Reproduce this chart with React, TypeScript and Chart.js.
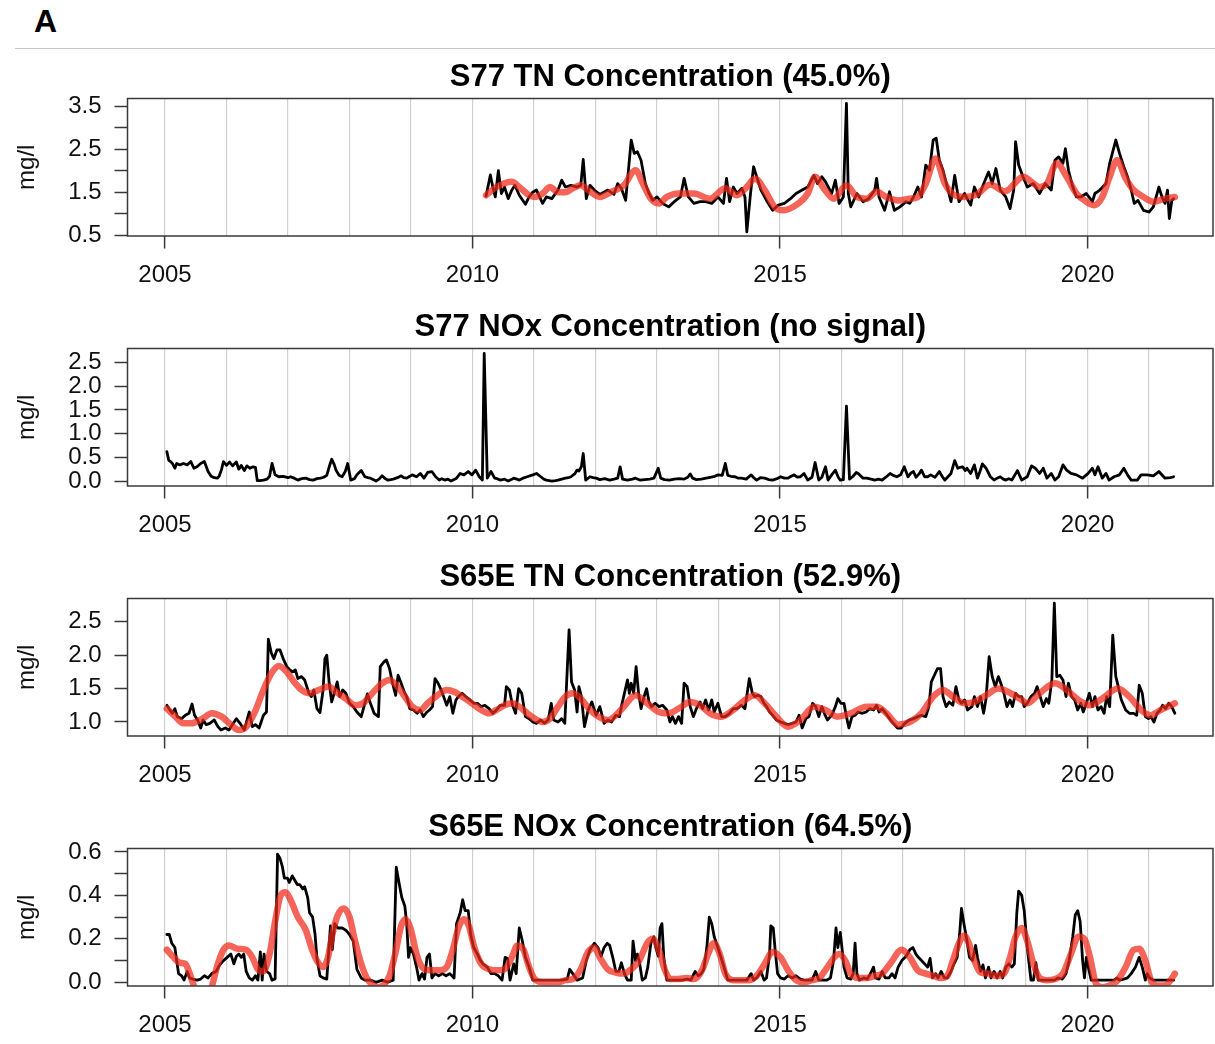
import React, { useEffect, useRef } from "react";
import { Chart, registerables } from "chart.js";

Chart.register(...registerables);

type Pt = [number, number];

// ---------- tick definitions ----------
const GRID_YEARS = [2005, 2006, 2007, 2008, 2009, 2010, 2011, 2012, 2013, 2014, 2015, 2016, 2017, 2018, 2019, 2020, 2021];
const LABEL_YEARS = [2005, 2010, 2015, 2020];

// ---------- S77 TN ----------
const S77_TN: Pt[] = [
  [2010.22,1.41],[2010.29,1.90],[2010.33,1.62],[2010.37,1.39],[2010.42,2.00],[2010.47,1.47],[2010.52,1.62],[2010.58,1.35],[2010.64,1.55],[2010.69,1.66],[2010.76,1.43],[2010.86,1.22],[2010.92,1.39],[2010.98,1.50],[2011.04,1.55],[2011.14,1.24],[2011.20,1.39],[2011.29,1.35],[2011.39,1.55],[2011.45,1.78],[2011.51,1.62],[2011.60,1.66],[2011.70,1.62],[2011.76,1.66],[2011.80,2.26],[2011.85,1.35],[2011.91,1.66],[2011.98,1.55],
  [2012.07,1.45],[2012.20,1.55],[2012.30,1.45],[2012.36,1.70],[2012.42,1.59],[2012.49,1.31],[2012.58,2.71],[2012.63,2.40],[2012.68,2.44],[2012.74,2.24],[2012.81,1.70],[2012.87,1.47],[2012.93,1.31],[2013.00,1.39],[2013.09,1.24],[2013.19,1.16],[2013.28,1.28],[2013.38,1.39],[2013.44,1.82],[2013.51,1.39],[2013.60,1.24],[2013.70,1.28],[2013.79,1.28],[2013.89,1.24],[2013.99,1.39],
  [2014.08,1.24],[2014.13,1.82],[2014.18,1.28],[2014.24,1.62],[2014.30,1.47],[2014.38,1.59],[2014.43,1.39],[2014.46,0.58],[2014.52,1.47],[2014.57,2.09],[2014.62,1.86],[2014.69,1.55],[2014.78,1.31],[2014.88,1.08],[2014.97,1.20],[2015.07,1.24],[2015.17,1.35],[2015.26,1.47],[2015.36,1.55],[2015.45,1.62],[2015.55,1.89],[2015.61,1.70],[2015.68,1.86],[2015.74,1.74],[2015.84,1.47],[2015.90,1.78],[2015.96,1.24],
  [2016.03,1.39],[2016.08,3.56],[2016.11,1.47],[2016.15,1.16],[2016.25,1.47],[2016.35,1.28],[2016.44,1.35],[2016.54,1.55],[2016.57,1.82],[2016.61,1.39],[2016.70,1.08],[2016.78,1.51],[2016.86,1.08],[2016.95,1.16],[2017.05,1.28],[2017.11,1.24],[2017.17,1.39],[2017.24,1.62],[2017.30,1.39],[2017.37,2.13],[2017.43,2.01],[2017.49,2.71],[2017.54,2.75],[2017.59,2.24],[2017.65,2.01],[2017.72,1.62],[2017.78,1.28],[2017.84,1.89],[2017.91,1.28],
  [2018.00,1.47],[2018.10,1.20],[2018.16,1.62],[2018.23,1.39],[2018.29,1.62],[2018.39,1.97],[2018.45,1.70],[2018.51,2.05],[2018.58,1.55],[2018.67,1.39],[2018.74,1.12],[2018.80,1.55],[2018.83,2.67],[2018.88,2.13],[2018.95,1.86],[2019.02,1.62],[2019.12,1.70],[2019.22,1.47],[2019.31,1.70],[2019.41,1.55],[2019.47,2.24],[2019.53,2.32],[2019.60,2.17],[2019.64,2.51],[2019.69,2.01],[2019.76,1.62],[2019.82,1.39],[2019.89,1.39],[2019.98,1.47],
  [2020.08,1.28],[2020.12,1.47],[2020.20,1.55],[2020.30,1.70],[2020.36,2.17],[2020.46,2.71],[2020.52,2.40],[2020.59,2.09],[2020.65,1.86],[2020.71,1.55],[2020.76,1.24],[2020.82,1.31],[2020.91,1.08],[2021.00,1.04],[2021.07,1.16],[2021.16,1.62],[2021.21,1.39],[2021.26,1.24],[2021.30,1.55],[2021.33,0.89],[2021.37,1.31],[2021.40,1.35],
];
const S77_TN_FIT: Pt[] = [
  [2010.22,1.43],[2010.39,1.62],[2010.64,1.74],[2010.76,1.62],[2010.92,1.43],[2011.01,1.39],[2011.14,1.47],[2011.26,1.62],[2011.39,1.50],[2011.51,1.50],[2011.63,1.59],[2011.76,1.66],[2011.88,1.55],[2012.07,1.39],[2012.26,1.51],[2012.46,1.66],[2012.65,2.01],[2012.77,1.70],[2012.90,1.35],[2013.03,1.24],[2013.16,1.39],[2013.35,1.47],[2013.60,1.47],[2013.86,1.35],[2014.11,1.59],[2014.30,1.43],[2014.46,1.62],[2014.59,1.82],[2014.75,1.55],[2014.91,1.16],[2015.04,1.08],[2015.26,1.20],[2015.45,1.47],[2015.57,1.86],[2015.71,1.59],[2015.87,1.35],[2016.08,1.66],[2016.25,1.39],[2016.41,1.35],[2016.57,1.51],[2016.73,1.39],[2016.92,1.31],[2017.11,1.35],[2017.24,1.39],[2017.37,1.70],[2017.53,2.28],[2017.68,1.70],[2017.84,1.43],[2018.00,1.39],[2018.20,1.45],[2018.42,1.68],[2018.65,1.52],[2018.96,1.86],[2019.09,1.74],[2019.22,1.62],[2019.34,1.70],[2019.50,2.17],[2019.66,1.86],[2019.82,1.47],[2019.98,1.28],[2020.11,1.20],[2020.24,1.39],[2020.36,1.86],[2020.48,2.24],[2020.62,1.82],[2020.75,1.55],[2020.91,1.39],[2021.07,1.28],[2021.26,1.35],[2021.42,1.39],
];

// ---------- S77 NOx ----------
const S77_NOX: Pt[] = [
  [2005.03,0.62],[2005.06,0.44],[2005.09,0.41],[2005.12,0.37],[2005.16,0.27],[2005.19,0.37],[2005.24,0.34],[2005.30,0.37],[2005.36,0.34],[2005.42,0.41],[2005.47,0.27],[2005.52,0.30],[2005.58,0.37],[2005.64,0.41],[2005.70,0.20],[2005.75,0.10],[2005.80,0.07],[2005.85,0.06],[2005.88,0.10],[2005.92,0.25],[2005.95,0.41],[2006.00,0.33],[2006.05,0.40],[2006.10,0.32],[2006.16,0.40],[2006.20,0.25],[2006.24,0.33],[2006.29,0.22],[2006.33,0.32],[2006.38,0.27],[2006.43,0.30],[2006.47,0.29],[2006.50,0.01],
  [2006.54,0.01],[2006.60,0.02],[2006.66,0.04],[2006.70,0.10],[2006.74,0.37],[2006.79,0.13],[2006.85,0.09],[2006.92,0.10],[2007.00,0.07],[2007.04,0.09],[2007.10,0.06],[2007.16,0.02],[2007.22,0.05],[2007.29,0.06],[2007.35,0.03],[2007.41,0.02],[2007.47,0.05],[2007.53,0.06],[2007.58,0.08],[2007.63,0.12],[2007.67,0.30],[2007.71,0.46],[2007.75,0.35],[2007.78,0.23],[2007.83,0.12],[2007.88,0.09],[2007.93,0.20],[2007.97,0.37],
  [2008.02,0.02],[2008.08,0.05],[2008.12,0.13],[2008.19,0.22],[2008.25,0.09],[2008.30,0.07],[2008.34,0.06],[2008.40,0.02],[2008.43,0.00],[2008.48,0.04],[2008.53,0.11],[2008.58,0.05],[2008.62,0.02],[2008.67,0.03],[2008.71,0.04],[2008.78,0.07],[2008.84,0.11],[2008.88,0.07],[2008.93,0.06],[2008.98,0.10],[2009.02,0.13],[2009.09,0.09],[2009.15,0.16],[2009.21,0.06],[2009.27,0.18],[2009.34,0.20],[2009.40,0.09],[2009.46,0.02],[2009.50,0.05],[2009.55,0.02],[2009.60,0.04],[2009.65,0.00],[2009.70,0.03],[2009.74,0.06],[2009.80,0.16],[2009.86,0.13],[2009.93,0.20],[2009.99,0.13],
  [2010.05,0.23],[2010.11,0.09],[2010.16,0.02],[2010.19,2.69],[2010.24,0.06],[2010.30,0.20],[2010.36,0.06],[2010.40,0.05],[2010.45,0.02],[2010.52,0.04],[2010.58,0.00],[2010.63,0.03],[2010.67,0.06],[2010.72,0.04],[2010.76,0.02],[2010.82,0.06],[2010.89,0.09],[2010.98,0.13],[2011.04,0.16],[2011.11,0.09],[2011.16,0.04],[2011.20,0.02],[2011.29,0.00],[2011.35,0.01],[2011.39,0.02],[2011.45,0.04],[2011.51,0.06],[2011.56,0.07],[2011.60,0.09],[2011.66,0.15],[2011.70,0.23],[2011.73,0.21],[2011.77,0.30],[2011.80,0.58],[2011.84,0.02],[2011.91,0.09],[2011.96,0.07],[2012.01,0.06],
  [2012.07,0.03],[2012.15,0.05],[2012.23,0.02],[2012.30,0.04],[2012.36,0.06],[2012.40,0.30],[2012.44,0.04],[2012.52,0.02],[2012.60,0.04],[2012.65,0.06],[2012.72,0.02],[2012.80,0.03],[2012.88,0.04],[2012.95,0.06],[2013.02,0.27],[2013.06,0.06],[2013.12,0.03],[2013.20,0.02],[2013.28,0.04],[2013.36,0.05],[2013.44,0.04],[2013.50,0.08],[2013.54,0.15],[2013.58,0.06],[2013.64,0.03],[2013.72,0.04],[2013.80,0.06],[2013.88,0.08],[2013.94,0.10],[2013.99,0.13],
  [2014.06,0.12],[2014.11,0.37],[2014.15,0.12],[2014.20,0.10],[2014.27,0.09],[2014.32,0.06],[2014.37,0.06],[2014.45,0.04],[2014.53,0.13],[2014.58,0.06],[2014.62,0.02],[2014.68,0.07],[2014.75,0.06],[2014.82,0.03],[2014.88,0.02],[2014.95,0.05],[2015.01,0.09],[2015.07,0.06],[2015.13,0.06],[2015.18,0.10],[2015.23,0.13],[2015.28,0.08],[2015.33,0.09],[2015.39,0.16],[2015.45,0.02],[2015.52,0.08],[2015.57,0.39],[2015.63,0.02],[2015.68,0.08],[2015.74,0.30],[2015.78,0.02],[2015.84,0.13],[2015.90,0.23],[2015.95,0.07],[2015.98,0.02],
  [2016.03,0.03],[2016.08,1.58],[2016.13,0.04],[2016.18,0.09],[2016.24,0.18],[2016.28,0.15],[2016.35,0.06],[2016.41,0.06],[2016.48,0.04],[2016.54,0.02],[2016.60,0.04],[2016.66,0.02],[2016.72,0.08],[2016.79,0.16],[2016.84,0.12],[2016.90,0.09],[2016.96,0.13],[2017.02,0.30],[2017.08,0.09],[2017.13,0.17],[2017.17,0.20],[2017.21,0.08],[2017.26,0.15],[2017.30,0.23],[2017.35,0.09],[2017.40,0.09],[2017.45,0.13],[2017.52,0.08],[2017.59,0.20],[2017.64,0.09],[2017.68,0.02],[2017.73,0.09],[2017.78,0.16],[2017.84,0.43],[2017.89,0.27],[2017.93,0.29],[2017.97,0.30],
  [2018.01,0.22],[2018.04,0.27],[2018.10,0.16],[2018.16,0.34],[2018.21,0.06],[2018.25,0.20],[2018.29,0.36],[2018.35,0.27],[2018.42,0.09],[2018.48,0.02],[2018.53,0.06],[2018.58,0.09],[2018.63,0.04],[2018.67,0.02],[2018.72,0.05],[2018.77,0.02],[2018.86,0.22],[2018.93,0.02],[2019.02,0.09],[2019.09,0.32],[2019.15,0.27],[2019.22,0.16],[2019.28,0.27],[2019.34,0.06],[2019.41,0.16],[2019.47,0.02],[2019.53,0.09],[2019.60,0.34],[2019.66,0.23],[2019.73,0.16],[2019.82,0.13],[2019.92,0.06],
  [2020.01,0.16],[2020.08,0.27],[2020.12,0.13],[2020.17,0.30],[2020.24,0.06],[2020.30,0.16],[2020.35,0.02],[2020.43,0.09],[2020.52,0.13],[2020.59,0.27],[2020.65,0.13],[2020.71,0.02],[2020.81,0.02],[2020.87,0.13],[2020.97,0.13],[2021.07,0.11],[2021.16,0.20],[2021.26,0.06],[2021.35,0.07],[2021.40,0.09],
];

// ---------- S65E TN ----------
const S65E_TN: Pt[] = [
  [2005.03,1.25],[2005.08,1.18],[2005.12,1.13],[2005.16,1.20],[2005.20,1.08],[2005.27,1.05],[2005.33,1.10],[2005.39,1.13],[2005.44,1.27],[2005.48,1.10],[2005.53,1.03],[2005.58,0.91],[2005.62,1.03],[2005.67,0.96],[2005.73,0.98],[2005.80,1.03],[2005.86,0.93],[2005.91,0.88],[2005.98,0.91],[2006.04,0.88],[2006.11,0.98],[2006.16,1.05],[2006.22,0.98],[2006.29,0.88],[2006.37,1.15],[2006.42,0.93],[2006.47,0.96],[2006.53,0.91],[2006.60,1.10],[2006.65,1.15],
  [2006.68,2.24],[2006.73,2.03],[2006.77,1.95],[2006.82,2.08],[2006.87,2.08],[2006.93,1.93],[2006.98,1.83],[2007.02,1.79],[2007.07,1.75],[2007.12,1.78],[2007.16,1.65],[2007.22,1.68],[2007.27,1.63],[2007.34,1.43],[2007.38,1.38],[2007.42,1.48],[2007.47,1.20],[2007.52,1.14],[2007.57,1.48],[2007.60,1.95],[2007.63,2.00],[2007.67,1.58],[2007.71,1.30],[2007.75,1.43],[2007.80,1.60],[2007.84,1.38],[2007.89,1.48],[2007.94,1.43],
  [2008.00,1.28],[2008.06,1.23],[2008.12,1.15],[2008.19,1.08],[2008.25,1.28],[2008.29,1.42],[2008.34,1.28],[2008.40,1.13],[2008.47,1.08],[2008.50,1.83],[2008.56,1.90],[2008.60,1.93],[2008.65,1.80],[2008.70,1.58],[2008.75,1.40],[2008.79,1.70],[2008.84,1.58],[2008.89,1.45],[2008.93,1.38],[2008.98,1.20],[2009.04,1.18],[2009.10,1.13],[2009.15,1.18],[2009.20,1.08],[2009.26,1.15],[2009.30,1.18],[2009.35,1.23],[2009.39,1.65],[2009.44,1.58],[2009.49,1.48],[2009.53,1.38],[2009.58,1.25],[2009.63,1.38],[2009.68,1.13],[2009.73,1.33],[2009.77,1.38],[2009.83,1.43],[2009.89,1.38],[2009.96,1.33],
  [2010.02,1.28],[2010.08,1.28],[2010.14,1.23],[2010.20,1.25],[2010.27,1.20],[2010.33,1.13],[2010.39,1.18],[2010.45,1.25],[2010.52,1.25],[2010.55,1.53],[2010.60,1.48],[2010.65,1.25],[2010.70,1.13],[2010.75,1.50],[2010.80,1.43],[2010.86,1.08],[2010.92,1.05],[2010.98,1.00],[2011.04,0.98],[2011.11,1.03],[2011.17,0.98],[2011.23,1.03],[2011.28,1.28],[2011.32,1.03],[2011.39,1.00],[2011.45,1.05],[2011.50,0.98],[2011.57,2.38],[2011.61,1.60],[2011.66,1.48],[2011.70,1.15],[2011.73,1.53],[2011.77,1.38],[2011.82,0.93],[2011.88,1.18],[2011.94,1.30],[2012.01,1.10],
  [2012.07,1.23],[2012.14,0.98],[2012.20,1.03],[2012.26,1.00],[2012.33,1.10],[2012.39,1.08],[2012.42,1.23],[2012.47,1.43],[2012.52,1.63],[2012.55,1.43],[2012.58,1.58],[2012.62,1.43],[2012.66,1.83],[2012.70,1.43],[2012.74,1.20],[2012.79,1.38],[2012.83,1.50],[2012.87,1.30],[2012.91,1.23],[2012.97,1.28],[2013.03,1.23],[2013.09,1.25],[2013.16,1.18],[2013.21,1.00],[2013.25,1.08],[2013.30,0.98],[2013.35,1.08],[2013.40,0.98],[2013.44,1.58],[2013.49,1.53],[2013.54,1.23],[2013.59,1.08],[2013.64,1.20],[2013.70,1.30],[2013.74,1.20],[2013.79,1.33],[2013.84,1.18],[2013.89,1.33],[2013.93,1.15],[2013.99,1.28],
  [2014.05,1.08],[2014.11,1.08],[2014.18,1.13],[2014.24,1.20],[2014.30,1.20],[2014.37,1.25],[2014.43,1.20],[2014.50,1.65],[2014.55,1.43],[2014.59,1.38],[2014.64,1.40],[2014.69,1.38],[2014.74,1.28],[2014.78,1.23],[2014.83,1.15],[2014.88,1.10],[2014.94,1.03],[2015.01,1.00],[2015.07,0.98],[2015.13,0.96],[2015.20,0.98],[2015.26,1.00],[2015.31,1.10],[2015.36,0.91],[2015.42,1.05],[2015.47,1.08],[2015.53,1.28],[2015.58,1.23],[2015.63,1.08],[2015.68,1.23],[2015.72,1.13],[2015.77,1.03],[2015.84,1.10],[2015.90,1.23],[2015.94,1.35],[2015.99,1.28],
  [2016.04,1.28],[2016.08,1.08],[2016.12,0.91],[2016.17,1.08],[2016.22,1.10],[2016.27,1.15],[2016.33,1.13],[2016.40,1.15],[2016.46,1.20],[2016.52,1.18],[2016.57,1.25],[2016.61,1.15],[2016.66,1.20],[2016.72,1.13],[2016.78,1.05],[2016.84,0.98],[2016.91,0.91],[2016.97,0.91],[2017.03,0.98],[2017.10,1.03],[2017.17,1.05],[2017.24,1.08],[2017.30,1.10],[2017.37,1.08],[2017.42,1.23],[2017.46,1.60],[2017.51,1.70],[2017.56,1.80],[2017.61,1.80],[2017.65,1.38],[2017.70,1.23],[2017.75,1.30],[2017.81,1.25],[2017.86,1.53],[2017.91,1.33],[2017.95,1.28],
  [2018.00,1.33],[2018.05,1.18],[2018.12,1.23],[2018.16,1.38],[2018.21,1.23],[2018.26,1.38],[2018.31,1.13],[2018.35,1.35],[2018.40,1.98],[2018.45,1.68],[2018.50,1.53],[2018.55,1.68],[2018.59,1.58],[2018.64,1.43],[2018.69,1.23],[2018.74,1.33],[2018.78,1.23],[2018.83,1.43],[2018.88,1.38],[2018.93,1.38],[2018.97,1.23],[2019.02,1.28],[2019.08,1.38],[2019.14,1.43],[2019.18,1.53],[2019.23,1.38],[2019.28,1.23],[2019.33,1.35],[2019.37,1.28],[2019.42,1.63],[2019.46,2.78],[2019.50,1.68],[2019.55,1.70],[2019.60,1.63],[2019.65,1.38],[2019.69,1.58],[2019.74,1.38],[2019.79,1.33],[2019.84,1.18],[2019.89,1.28],[2019.93,1.15],[2019.98,1.28],
  [2020.03,1.43],[2020.08,1.23],[2020.12,1.38],[2020.17,1.18],[2020.22,1.23],[2020.27,1.13],[2020.31,1.38],[2020.36,1.23],[2020.41,2.30],[2020.46,1.68],[2020.50,1.53],[2020.55,1.33],[2020.62,1.18],[2020.68,1.13],[2020.75,1.13],[2020.80,1.10],[2020.84,1.55],[2020.89,1.43],[2020.94,1.08],[2020.99,1.05],[2021.03,1.08],[2021.08,1.00],[2021.13,1.13],[2021.18,1.18],[2021.22,1.25],[2021.27,1.20],[2021.32,1.28],[2021.37,1.23],[2021.42,1.13],
];
const S65E_TN_FIT: Pt[] = [
  [2005.03,1.20],[2005.17,1.08],[2005.30,0.98],[2005.42,0.98],[2005.61,1.05],[2005.76,1.13],[2005.92,1.08],[2006.07,0.96],[2006.20,0.88],[2006.32,0.93],[2006.45,1.13],[2006.60,1.48],[2006.73,1.73],[2006.85,1.84],[2006.98,1.75],[2007.10,1.60],[2007.22,1.48],[2007.35,1.43],[2007.50,1.48],[2007.66,1.53],[2007.78,1.45],[2007.94,1.35],[2008.09,1.25],[2008.22,1.28],[2008.37,1.43],[2008.53,1.58],[2008.65,1.63],[2008.78,1.53],[2008.90,1.38],[2009.02,1.23],[2009.15,1.18],[2009.27,1.28],[2009.43,1.40],[2009.58,1.48],[2009.71,1.45],[2009.83,1.38],[2009.99,1.28],
  [2010.14,1.18],[2010.27,1.13],[2010.39,1.18],[2010.52,1.25],[2010.64,1.28],[2010.76,1.23],[2010.89,1.13],[2011.01,1.05],[2011.14,1.00],[2011.26,1.05],[2011.39,1.23],[2011.51,1.38],[2011.63,1.43],[2011.76,1.35],[2011.91,1.18],[2012.07,1.07],[2012.20,1.03],[2012.33,1.10],[2012.46,1.23],[2012.65,1.40],[2012.84,1.28],[2013.03,1.15],[2013.19,1.13],[2013.35,1.20],[2013.54,1.30],[2013.70,1.25],[2013.86,1.13],[2014.05,1.08],[2014.24,1.18],[2014.43,1.33],[2014.59,1.40],[2014.75,1.28],[2014.94,1.08],
  [2015.13,0.93],[2015.33,1.03],[2015.55,1.23],[2015.74,1.18],[2015.93,1.08],[2016.15,1.13],[2016.41,1.23],[2016.57,1.23],[2016.73,1.13],[2016.92,0.96],[2017.11,1.00],[2017.30,1.13],[2017.49,1.38],[2017.65,1.48],[2017.81,1.38],[2018.00,1.28],[2018.16,1.30],[2018.35,1.40],[2018.55,1.50],[2018.71,1.45],[2018.90,1.35],[2019.02,1.28],[2019.22,1.43],[2019.47,1.58],[2019.66,1.48],[2019.85,1.33],[2020.04,1.25],[2020.24,1.35],[2020.49,1.50],[2020.68,1.38],[2020.87,1.18],[2021.03,1.10],[2021.19,1.18],[2021.42,1.28],
];

// ---------- S65E NOx ----------
const S65E_NOX: Pt[] = [
  [2005.03,0.22],[2005.07,0.22],[2005.11,0.18],[2005.16,0.16],[2005.19,0.10],[2005.22,0.04],[2005.27,0.03],[2005.31,0.01],[2005.36,0.05],[2005.40,0.02],[2005.45,0.015],[2005.52,0.01],[2005.58,0.015],[2005.64,0.03],[2005.70,0.02],[2005.76,0.04],[2005.83,0.05],[2005.89,0.08],[2005.95,0.10],[2006.01,0.115],[2006.07,0.13],[2006.12,0.085],[2006.16,0.12],[2006.20,0.13],[2006.24,0.115],[2006.28,0.13],[2006.32,0.05],[2006.37,0.02],[2006.42,0.01],[2006.47,0.03],[2006.51,0.01],[2006.55,0.14],[2006.58,0.01],[2006.61,0.13],[2006.65,0.05],[2006.70,0.04],[2006.74,0.01],[2006.79,0.015],
  [2006.83,0.59],[2006.87,0.57],[2006.91,0.53],[2006.94,0.48],[2006.99,0.48],[2007.02,0.46],[2007.07,0.49],[2007.11,0.47],[2007.15,0.45],[2007.19,0.45],[2007.24,0.43],[2007.27,0.44],[2007.32,0.39],[2007.35,0.32],[2007.40,0.30],[2007.44,0.22],[2007.47,0.11],[2007.52,0.03],[2007.57,0.02],[2007.63,0.015],[2007.69,0.26],[2007.72,0.15],[2007.76,0.27],[2007.81,0.25],[2007.88,0.25],[2007.94,0.24],[2008.00,0.22],[2008.06,0.19],[2008.12,0.06],[2008.19,0.02],[2008.25,0.01],[2008.34,0.01],[2008.43,0.00],[2008.53,0.01],[2008.62,0.00],[2008.71,0.01],
  [2008.76,0.53],[2008.81,0.45],[2008.85,0.39],[2008.90,0.35],[2008.93,0.27],[2008.96,0.115],[2008.99,0.16],[2009.04,0.13],[2009.09,0.07],[2009.13,0.01],[2009.18,0.04],[2009.22,0.015],[2009.26,0.115],[2009.30,0.13],[2009.34,0.02],[2009.39,0.04],[2009.45,0.03],[2009.51,0.04],[2009.57,0.03],[2009.63,0.04],[2009.70,0.02],[2009.74,0.27],[2009.80,0.32],[2009.84,0.38],[2009.88,0.33],[2009.93,0.33],[2009.97,0.22],
  [2010.02,0.16],[2010.08,0.13],[2010.13,0.10],[2010.17,0.085],[2010.24,0.07],[2010.30,0.04],[2010.36,0.04],[2010.42,0.03],[2010.48,0.01],[2010.53,0.115],[2010.57,0.11],[2010.61,0.01],[2010.67,0.085],[2010.71,0.04],[2010.76,0.25],[2010.81,0.19],[2010.86,0.115],[2010.92,0.07],[2010.98,0.01],[2011.07,0.01],[2011.17,0.01],[2011.26,0.01],[2011.35,0.01],[2011.45,0.01],[2011.54,0.015],[2011.58,0.06],[2011.63,0.04],[2011.70,0.01],[2011.79,0.02],[2011.85,0.10],[2011.91,0.15],[2011.98,0.18],
  [2012.04,0.16],[2012.09,0.12],[2012.14,0.16],[2012.19,0.18],[2012.23,0.17],[2012.28,0.115],[2012.33,0.05],[2012.38,0.05],[2012.42,0.09],[2012.47,0.04],[2012.52,0.01],[2012.58,0.01],[2012.61,0.19],[2012.65,0.10],[2012.68,0.13],[2012.71,0.10],[2012.76,0.01],[2012.81,0.02],[2012.85,0.07],[2012.90,0.18],[2012.95,0.21],[2012.98,0.16],[2013.02,0.12],[2013.05,0.25],[2013.08,0.27],[2013.11,0.115],[2013.16,0.01],[2013.22,0.01],[2013.28,0.01],[2013.35,0.01],[2013.41,0.01],[2013.49,0.015],[2013.55,0.01],[2013.62,0.05],[2013.67,0.03],[2013.72,0.04],[2013.76,0.06],[2013.81,0.16],[2013.85,0.30],[2013.89,0.27],[2013.93,0.21],[2013.99,0.16],
  [2014.04,0.115],[2014.09,0.07],[2014.15,0.01],[2014.21,0.01],[2014.27,0.01],[2014.34,0.01],[2014.40,0.01],[2014.46,0.01],[2014.53,0.04],[2014.57,0.01],[2014.62,0.02],[2014.69,0.05],[2014.74,0.01],[2014.78,0.02],[2014.83,0.13],[2014.85,0.26],[2014.89,0.25],[2014.92,0.15],[2014.96,0.04],[2015.01,0.02],[2015.07,0.015],[2015.13,0.03],[2015.20,0.02],[2015.26,0.03],[2015.33,0.015],[2015.39,0.01],[2015.45,0.01],[2015.52,0.01],[2015.58,0.05],[2015.63,0.01],[2015.70,0.01],[2015.76,0.01],[2015.82,0.02],[2015.87,0.10],[2015.91,0.25],[2015.94,0.16],[2015.98,0.23],
  [2016.01,0.15],[2016.04,0.07],[2016.09,0.02],[2016.15,0.015],[2016.19,0.04],[2016.22,0.18],[2016.25,0.04],[2016.29,0.01],[2016.36,0.02],[2016.42,0.015],[2016.47,0.04],[2016.52,0.07],[2016.55,0.02],[2016.61,0.015],[2016.66,0.05],[2016.71,0.02],[2016.77,0.02],[2016.82,0.04],[2016.87,0.02],[2016.92,0.07],[2016.98,0.10],[2017.05,0.12],[2017.11,0.15],[2017.16,0.16],[2017.21,0.13],[2017.25,0.115],[2017.30,0.10],[2017.35,0.085],[2017.40,0.07],[2017.44,0.11],[2017.48,0.02],[2017.53,0.04],[2017.57,0.02],[2017.62,0.05],[2017.67,0.02],[2017.72,0.02],[2017.78,0.05],[2017.83,0.085],[2017.88,0.115],[2017.92,0.22],[2017.95,0.34],[2017.99,0.27],
  [2018.04,0.19],[2018.08,0.115],[2018.13,0.10],[2018.18,0.17],[2018.21,0.115],[2018.26,0.05],[2018.30,0.08],[2018.34,0.02],[2018.39,0.07],[2018.43,0.02],[2018.48,0.05],[2018.53,0.02],[2018.58,0.05],[2018.62,0.02],[2018.67,0.07],[2018.72,0.085],[2018.77,0.07],[2018.81,0.085],[2018.85,0.32],[2018.88,0.42],[2018.93,0.40],[2018.97,0.33],[2019.02,0.16],[2019.08,0.01],[2019.12,0.01],[2019.16,0.09],[2019.20,0.01],[2019.27,0.01],[2019.33,0.01],[2019.39,0.01],[2019.46,0.01],[2019.52,0.02],[2019.59,0.015],[2019.65,0.04],[2019.70,0.10],[2019.76,0.21],[2019.80,0.31],[2019.84,0.33],[2019.88,0.28],[2019.92,0.10],[2019.95,0.02],[2019.98,0.115],
  [2020.02,0.06],[2020.06,0.01],[2020.12,0.01],[2020.19,0.01],[2020.25,0.01],[2020.31,0.01],[2020.36,0.01],[2020.43,0.01],[2020.48,0.02],[2020.52,0.01],[2020.59,0.015],[2020.65,0.02],[2020.71,0.04],[2020.78,0.07],[2020.84,0.115],[2020.89,0.07],[2020.94,0.01],[2020.97,0.04],[2021.01,0.02],[2021.07,0.01],[2021.13,0.01],[2021.19,0.01],[2021.26,0.01],[2021.32,0.01],[2021.40,0.01],
];
const S65E_NOX_FIT: Pt[] = [
  [2005.03,0.15],[2005.14,0.115],[2005.24,0.09],[2005.33,0.085],[2005.39,0.05],[2005.45,0.0],[2005.50,-0.04],[2005.61,-0.07],[2005.73,-0.054],[2005.78,0.0],[2005.86,0.085],[2005.95,0.15],[2006.04,0.17],[2006.17,0.155],[2006.32,0.15],[2006.42,0.115],[2006.51,0.06],[2006.60,0.05],[2006.70,0.13],[2006.79,0.28],[2006.88,0.40],[2006.96,0.415],[2007.04,0.38],[2007.16,0.30],[2007.29,0.24],[2007.38,0.16],[2007.47,0.10],[2007.57,0.07],[2007.65,0.115],[2007.72,0.22],[2007.81,0.31],[2007.91,0.34],[2008.00,0.30],[2008.09,0.19],[2008.19,0.085],[2008.28,0.02],[2008.37,-0.01],[2008.47,-0.023],[2008.56,-0.01],[2008.65,0.03],[2008.75,0.14],[2008.84,0.26],[2008.91,0.29],[2008.99,0.25],
  [2009.09,0.13],[2009.18,0.07],[2009.30,0.055],[2009.46,0.055],[2009.58,0.07],[2009.68,0.15],[2009.77,0.25],[2009.86,0.29],[2009.94,0.26],[2010.03,0.16],[2010.14,0.085],[2010.27,0.06],[2010.39,0.055],[2010.52,0.06],[2010.64,0.115],[2010.73,0.17],[2010.83,0.15],[2010.92,0.07],[2011.01,0.015],[2011.14,0.0],[2011.26,0.0],[2011.39,0.0],[2011.51,0.01],[2011.63,0.015],[2011.76,0.06],[2011.88,0.14],[2011.98,0.16],[2012.07,0.115],[2012.20,0.06],[2012.33,0.045],[2012.46,0.04],[2012.58,0.06],[2012.71,0.10],[2012.84,0.18],[2012.93,0.20],
  [2013.03,0.15],[2013.13,0.055],[2013.22,0.015],[2013.35,0.015],[2013.48,0.02],[2013.60,0.015],[2013.73,0.055],[2013.83,0.13],[2013.92,0.18],[2014.02,0.13],[2014.11,0.04],[2014.24,0.01],[2014.37,0.01],[2014.50,0.01],[2014.62,0.03],[2014.75,0.085],[2014.88,0.14],[2015.01,0.115],[2015.13,0.055],[2015.26,0.01],[2015.39,0.0],[2015.52,0.01],[2015.64,0.02],[2015.77,0.07],[2015.90,0.12],[2015.96,0.13],[2016.06,0.10],[2016.15,0.04],[2016.28,0.02],[2016.41,0.02],[2016.54,0.03],[2016.66,0.04],[2016.79,0.085],[2016.98,0.15],
  [2017.11,0.115],[2017.24,0.055],[2017.37,0.04],[2017.49,0.03],[2017.62,0.02],[2017.72,0.03],[2017.81,0.10],[2017.91,0.18],[2017.99,0.215],[2018.07,0.18],[2018.16,0.10],[2018.26,0.045],[2018.39,0.04],[2018.51,0.03],[2018.64,0.04],[2018.74,0.115],[2018.83,0.21],[2018.93,0.25],[2019.02,0.19],[2019.12,0.085],[2019.22,0.02],[2019.34,0.01],[2019.47,0.015],[2019.60,0.04],[2019.73,0.13],[2019.85,0.21],[2019.95,0.20],[2020.04,0.115],[2020.14,-0.008],[2020.24,-0.023],[2020.36,-0.015],[2020.49,0.01],[2020.62,0.07],[2020.75,0.15],[2020.84,0.155],[2020.94,0.10],[2021.03,0.01],[2021.13,-0.015],[2021.26,-0.015],[2021.35,0.01],[2021.42,0.04],
];

// ---------- y ticks per panel ----------
const S77_TN_TICKS = [0.5, 1.0, 1.5, 2.0, 2.5, 3.0, 3.5];
const S77_TN_LABELS = [0.5, 1.5, 2.5, 3.5];
const S77_NOX_TICKS = [0.0, 0.5, 1.0, 1.5, 2.0, 2.5];
const S77_NOX_LABELS = [0.0, 0.5, 1.0, 1.5, 2.0, 2.5];
const S65E_TN_TICKS = [1.0, 1.5, 2.0, 2.5];
const S65E_TN_LABELS = [1.0, 1.5, 2.0, 2.5];
const S65E_NOX_TICKS = [0.0, 0.1, 0.2, 0.3, 0.4, 0.5, 0.6];
const S65E_NOX_LABELS = [0.0, 0.2, 0.4, 0.6];

type PanelCfg = {
  title: string;
  obs: Pt[];
  fit: Pt[] | null;
  yMin: number;
  yMax: number;
  ticks: number[];
  labels: number[];
};

const PANELS: PanelCfg[] = [
  { title: "S77 TN Concentration (45.0%)", obs: S77_TN, fit: S77_TN_FIT, yMin: 0.484, yMax: 3.674, ticks: S77_TN_TICKS, labels: S77_TN_LABELS },
  { title: "S77 NOx Concentration (no signal)", obs: S77_NOX, fit: null, yMin: -0.105, yMax: 2.795, ticks: S77_NOX_TICKS, labels: S77_NOX_LABELS },
  { title: "S65E TN Concentration (52.9%)", obs: S65E_TN, fit: S65E_TN_FIT, yMin: 0.79, yMax: 2.85, ticks: S65E_TN_TICKS, labels: S65E_TN_LABELS },
  { title: "S65E NOx Concentration (64.5%)", obs: S65E_NOX, fit: S65E_NOX_FIT, yMin: -0.017, yMax: 0.616, ticks: S65E_NOX_TICKS, labels: S65E_NOX_LABELS },
];

const FONT = "'Liberation Sans', Arial, Helvetica, sans-serif";
const RED = "rgba(240, 40, 25, 0.72)";
const AXIS = "#3a3a3a";
const GRID = "#d0d0d0";
const TEXT = "#111111";

const near = (list: number[], v: number) => list.some((l) => Math.abs(l - v) < 1e-6);

const boxPlugin = {
  id: "plotBox",
  afterDraw(chart: any) {
    const { ctx, chartArea } = chart;
    const { left, top, right, bottom } = chartArea;
    ctx.save();
    ctx.strokeStyle = AXIS;
    ctx.lineWidth = 1.5;
    ctx.strokeRect(left, top, right - left, bottom - top);
    ctx.restore();
  },
};

function Panel({ cfg, top }: { cfg: PanelCfg; top: number }) {
  const ref = useRef<HTMLCanvasElement>(null);
  useEffect(() => {
    if (!ref.current) return;
    const datasets: any[] = [];
    if (cfg.fit) {
      datasets.push({
        data: cfg.fit.map(([x, y]) => ({ x, y })),
        borderColor: RED,
        borderWidth: 6.5,
        pointRadius: 0,
        cubicInterpolationMode: "monotone",
        borderCapStyle: "round",
        borderJoinStyle: "round",
        clip: 0,
      });
    }
    datasets.push({
      data: cfg.obs.map(([x, y]) => ({ x, y })),
      borderColor: "#000000",
      borderWidth: 2.8,
      pointRadius: 0,
      tension: 0,
      borderCapStyle: "round",
      borderJoinStyle: "round",
      clip: 0,
    });
    const chart = new Chart(ref.current, {
      type: "line",
      data: { datasets },
      options: {
        animation: false,
        responsive: false,
        devicePixelRatio: 1,
        events: [],
        layout: { padding: { left: 0, right: 2, top: 0, bottom: 0 } },
        plugins: {
          legend: { display: false },
          tooltip: { enabled: false },
          title: {
            display: true,
            text: cfg.title,
            fullSize: false,
            color: "#000",
            font: { family: FONT, size: 31, weight: "bold" },
            padding: { top: 18.9, bottom: 2.4 },
          },
        },
        scales: {
          x: {
            type: "linear",
            min: 2004.39,
            max: 2022.04,
            afterBuildTicks: (s: any) => {
              s.ticks = GRID_YEARS.map((v) => ({ value: v }));
            },
            afterFit: (s: any) => {
              s.height = 54;
            },
            ticks: {
              autoSkip: false,
              maxRotation: 0,
              minRotation: 0,
              padding: 12.4,
              color: TEXT,
              font: { family: FONT, size: 24 },
              callback: (v: any) => (LABEL_YEARS.includes(Number(v)) ? String(v) : ""),
            },
            grid: {
              drawOnChartArea: true,
              drawTicks: true,
              tickLength: 12.5,
              color: GRID,
              lineWidth: 1.2,
              tickColor: (ctx: any) =>
                ctx.tick && LABEL_YEARS.includes(ctx.tick.value) ? AXIS : "rgba(0,0,0,0)",
              tickWidth: 1.5,
            },
            border: { display: false },
          },
          y: {
            type: "linear",
            min: cfg.yMin,
            max: cfg.yMax,
            afterBuildTicks: (s: any) => {
              s.ticks = cfg.ticks.map((v) => ({ value: v }));
            },
            afterFit: (s: any) => {
              s.width = 127.5;
            },
            ticks: {
              autoSkip: false,
              padding: 13,
              color: TEXT,
              font: { family: FONT, size: 24 },
              callback: (v: any) => (near(cfg.labels, Number(v)) ? Number(v).toFixed(1) : ""),
            },
            grid: {
              drawOnChartArea: false,
              drawTicks: true,
              tickLength: 13,
              tickColor: AXIS,
              tickWidth: 1.5,
            },
            border: { display: false },
            title: {
              display: true,
              text: "mg/l",
              color: TEXT,
              font: { family: FONT, size: 24 },
              padding: { top: 13, bottom: 0 },
            },
          },
        },
      },
      plugins: [boxPlugin],
    } as any);
    return () => chart.destroy();
  }, [cfg]);
  return (
    <canvas
      ref={ref}
      width={1215}
      height={250}
      style={{ position: "absolute", left: 0, top, width: 1215, height: 250 }}
    />
  );
}

export default function App() {
  return (
    <div
      style={{
        position: "absolute",
        left: 0,
        top: 0,
        width: 1215,
        height: 1044,
        background: "#ffffff",
        overflow: "hidden",
      }}
    >
      <div
        style={{
          position: "absolute",
          left: 34,
          top: 5,
          fontFamily: FONT,
          fontWeight: "bold",
          fontSize: 32,
          lineHeight: "32px",
          color: "#000",
        }}
      >
        A
      </div>
      <div
        style={{
          position: "absolute",
          left: 15,
          top: 48,
          width: 1200,
          height: 1,
          background: "#c8c8c8",
        }}
      />
      {PANELS.map((p, i) => (
        <Panel key={i} cfg={p} top={40 + 250 * i} />
      ))}
    </div>
  );
}
